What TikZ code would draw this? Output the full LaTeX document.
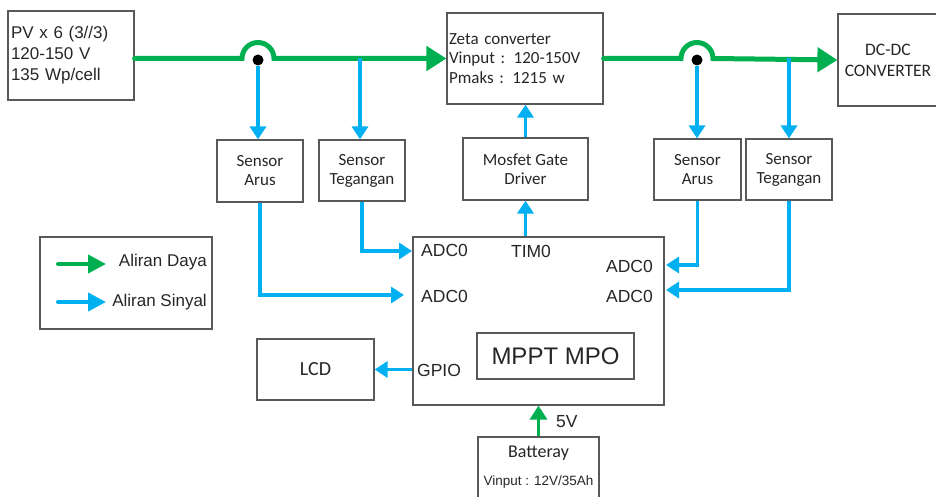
\documentclass[tikz,border=0pt]{standalone}
\usepackage{fontspec}
\setmainfont{Liberation Sans}
\newfontfamily\calib{Carlito}
\usetikzlibrary{arrows.meta}
\definecolor{pgreen}{RGB}{0,176,80}
\definecolor{sblue}{RGB}{0,176,240}
\definecolor{bord}{RGB}{89,89,89}
\newcommand\myfs[2]{\fontsize{#1}{#2}\selectfont}
\tikzset{
  box/.style={draw=bord, line width=1.2pt, inner sep=0pt, align=center, text=black!85},
  pw/.style={draw=pgreen, line width=5pt, line cap=round, -{Triangle[length=20pt,width=24pt]}},
  pwsmall/.style={draw=pgreen, line width=3.5pt, -{Triangle[length=14pt,width=17pt]}},
  sg/.style={draw=sblue, line width=3.5pt, -{Triangle[length=13pt,width=16pt]}},
  sgleg/.style={draw=sblue, line width=4pt, line cap=round, -{Triangle[length=18pt,width=18pt]}},
  pwleg/.style={draw=pgreen, line width=4pt, line cap=round, -{Triangle[length=18pt,width=18pt]}},
  dot/.style={circle, fill=black, inner sep=0pt, minimum size=11pt},
  lbl/.style={inner sep=0pt, text=black!85, font=\myfs{17.5}{20}},
}
\begin{document}
\begin{tikzpicture}[x=1pt,y=1pt]
\useasboundingbox (0,0) rectangle (936,-497);
% boxes
\node[box, minimum width=126pt, minimum height=89pt, text width=120pt, align=left, font=\myfs{17}{21}] (pv) at (71,-55.5) {PV x 6 (3//3)\\120-150 V\\135 Wp/cell};
\node[box, minimum width=156pt, minimum height=91pt, text width=152pt, align=left, font=\calib\myfs{17}{19.5}] (zeta) at (525,-58.5) {Zeta converter\\Vinput : 120-150V\\Pmaks : 1215 w};
\node[box, minimum width=100pt, minimum height=92pt, font=\calib\myfs{17.5}{21}] (dcdc) at (888,-60) {DC-DC\\CONVERTER};
\node[box, minimum width=86pt, minimum height=62pt, font=\calib\myfs{17}{19}] (sa1) at (260,-171) {Sensor\\Arus};
\node[box, minimum width=86pt, minimum height=61pt, font=\calib\myfs{17}{19}] (st1) at (362,-170.5) {Sensor\\Tegangan};
\node[box, minimum width=125pt, minimum height=62pt, font=\calib\myfs{17}{19}] (mos) at (525.5,-169) {Mosfet Gate\\Driver};
\node[box, minimum width=87pt, minimum height=61pt, font=\calib\myfs{17}{19}] (sa2) at (697.5,-169.5) {Sensor\\Arus};
\node[box, minimum width=86pt, minimum height=61pt, font=\calib\myfs{17}{19}] (st2) at (789,-169.5) {Sensor\\Tegangan};
\node[box, minimum width=251pt, minimum height=168pt] (mcu) at (538.5,-321) {};
\node[box, minimum width=157pt, minimum height=46pt, font=\myfs{24}{28}] (mppt) at (555.5,-356) {MPPT MPO};
\node[box, minimum width=117pt, minimum height=61pt, font=\calib\myfs{20}{22}] (lcd) at (315.5,-369.5) {LCD};
\node[box, minimum width=121pt, minimum height=73pt] (bat) at (538.5,-473.5) {};
\node[inner sep=0pt, text=black!85, font=\calib\myfs{18}{20}] (battxt) at (538.5,-453) {Batteray};
\node[inner sep=0pt, text=black!85, font=\myfs{13.5}{15}] (batvin) at (538.5,-482) {Vinput : 12V/35Ah};
\node[box, minimum width=172pt, minimum height=92pt] (leg) at (126,-283) {};
% mcu labels
\node[lbl, anchor=west] (adcl1) at (421,-250) {ADC0};
\node[lbl, anchor=west] (adcl2) at (421,-296) {ADC0};
\node[lbl] (tim) at (531,-251) {TIM0};
\node[lbl, anchor=east] (adcr1) at (653,-266) {ADC0};
\node[lbl, anchor=east] (adcr2) at (653,-296) {ADC0};
\node[lbl, anchor=west] (gpio) at (417,-370) {GPIO};
\node[lbl, anchor=west] (fivev) at (556,-422) {5V};
% legend
\coordinate (lg1a) at (58,-264);
\coordinate (lg1b) at (106,-264);
\coordinate (lg2a) at (58,-302);
\coordinate (lg2b) at (106,-302);
\draw[pwleg] (lg1a) -- (lg1b);
\draw[sgleg] (lg2a) -- (lg2b);
\node[lbl, anchor=east, font=\myfs{17}{20}] (legt1) at (207,-262) {Aliran Daya};
\node[lbl, anchor=east, font=\myfs{17}{20}] (legt2) at (207,-302) {Aliran Sinyal};
% power line with jumps
\coordinate (j1a) at (242,-58.5);
\coordinate (j2a) at (681,-58.5);
\draw[pw] (pv.east |- zeta.west) -- (j1a) arc (180:0:16pt) -- (zeta.west);
\draw[pw] (zeta.east) -- (j2a) arc (180:0:16pt) -- (dcdc.west);
\node[dot] (d1) at (258,-60) {};
\node[dot] (d2) at (697,-60) {};
\coordinate (t1) at (360,-58.5);
\coordinate (t2) at (789,-58.5);
% signal arrows
\draw[sg] (d1.south) -- (d1.south |- sa1.north);
\draw[sg] (t1) -- (t1 |- st1.north);
\draw[sg] (d2.south) -- (d2.south |- sa2.north);
\draw[sg] (t2) -- (t2 |- st2.north);
\draw[sg] (mos.north) -- (mos.north |- zeta.south);
\draw[sg] (mcu.north -| mos.south) -- (mos.south);
\coordinate (in1) at (412,-251);
\coordinate (in2) at (404,-295);
\coordinate (in3) at (666,-265);
\coordinate (in4) at (666,-290);
\draw[sg] (st1.south) |- (in1);
\draw[sg] (sa1.south) |- (in2);
\draw[sg] (sa2.south) |- (in3);
\draw[sg] (st2.south) |- (in4);
\draw[sg] (mcu.west |- lcd.east) -- (lcd.east);
\draw[pwsmall] (bat.north) -- (mcu.south);
\end{tikzpicture}
\end{document}
